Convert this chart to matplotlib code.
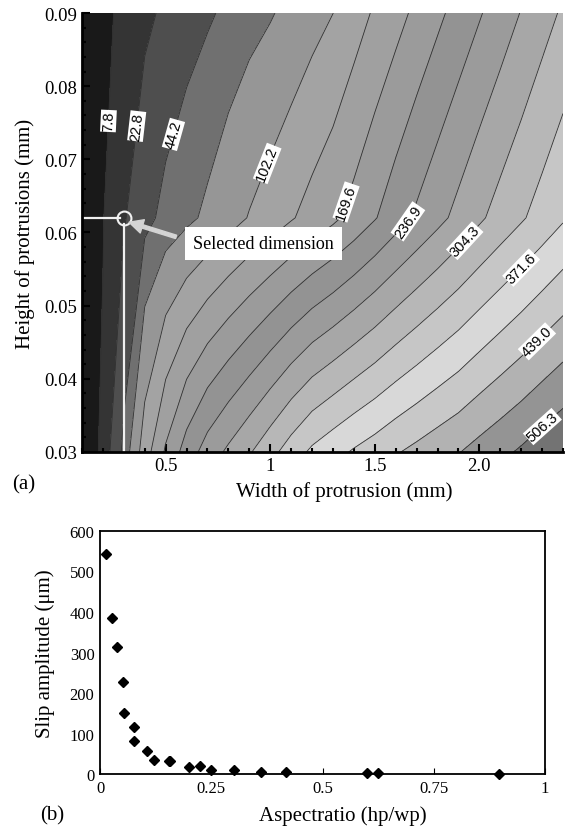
import numpy as np
import matplotlib
matplotlib.use('Agg')
import matplotlib.pyplot as plt
from matplotlib.ticker import MultipleLocator

plt.rcParams['font.family'] = ['Liberation Serif', 'DejaVu Serif']

# (a) slip amplitude (um) on a coarse width x height grid
width_mm = [0.1, 0.2, 0.3, 0.4, 0.5, 0.6, 0.7, 0.8, 0.9, 1.0, 1.1, 1.2,
            1.3, 1.4, 1.5, 1.6, 1.7, 1.8, 1.9, 2.0, 2.1, 2.2, 2.3, 2.4]
height_mm = [0.03, 0.062, 0.09]
slip_h030 = [1, 9.7, 49, 120, 174, 218, 252, 277, 301, 327, 354, 378,
             394, 409, 422, 436, 448, 460, 471, 485, 498, 511, 525, 538]
slip_h062 = [1, 7.2, 21, 37, 51, 62, 74, 89, 104, 118, 133, 148,
             163, 181, 201, 222, 242, 261, 280, 299, 317, 334, 351, 368]
slip_h090 = [2, 5.5, 10, 19, 26, 34, 41, 49, 58, 66, 77, 90,
             102, 121, 140, 158, 177, 196, 215, 234, 253, 272, 291, 309]

contour_levels = [7.8, 22.8, 44.2, 68.5, 102.2, 135.9, 169.6, 203.2, 236.9,
                  270.6, 304.3, 337.9, 371.6, 405.3, 439.0, 472.6, 506.3]
# grey of each filled band (0-255), lowest band first
band_grey = [25, 52, 78, 112, 150, 163, 160, 155, 147, 155, 167, 183,
             198, 216, 200, 178, 148, 115]
label_levels = [7.8, 22.8, 44.2, 102.2, 169.6, 236.9, 304.3, 371.6, 439.0, 506.3]
label_pos = [(0.26, 0.0752), (0.374, 0.0745), (0.563, 0.0732), (0.998, 0.0693),
             (1.37, 0.0641), (1.659, 0.0615), (1.925, 0.059), (2.196, 0.0553),
             (2.30, 0.0444), (2.316, 0.033)]
selected = (0.3, 0.062)

# (b) slip amplitude vs aspect ratio
aspect_ratio = [0.0135, 0.027, 0.0375, 0.052, 0.054, 0.077, 0.077, 0.106, 0.121, 0.154,
                0.158, 0.200, 0.225, 0.250, 0.300, 0.361, 0.417, 0.599, 0.624, 0.897]
slip_amp = [543, 385, 313, 228, 150, 115, 82, 57, 35, 32,
            32, 18, 20, 10, 11, 6, 6, 2, 2.5, 1]

fig = plt.figure(figsize=(5.67, 8.29), dpi=100)

# ---------- panel (a) ----------
ax = fig.add_axes([0.1446, 0.4536, 0.8484, 0.5295])
X, Y = np.meshgrid(width_mm, height_mm)
Z = np.array([slip_h030, slip_h062, slip_h090])

bounds = [-10] + contour_levels + [700]
fill_cols = [(g / 255, g / 255, g / 255) for g in band_grey]
ax.contourf(X, Y, Z, levels=bounds, colors=fill_cols)
plain_levels = [v for v in contour_levels if v not in label_levels]
ax.contour(X, Y, Z, levels=plain_levels, colors='#303030', linewidths=0.6)
cs = ax.contour(X, Y, Z, levels=label_levels, colors='#303030', linewidths=0.6)
labels = ax.clabel(cs, manual=label_pos, fmt='%.1f',
                   fontsize=10.5, inline=True, inline_spacing=1, colors='black')
for t in labels:
    t.set_family('Liberation Sans')
    t.set_bbox(dict(facecolor='white', edgecolor='none', pad=0.6))

# selected dimension marker
ax.plot([0.1, selected[0] - 0.017], [selected[1], selected[1]], color='#f0f0f0', lw=1.6)
ax.plot([selected[0], selected[0]], [0.03, selected[1] - 0.0008], color='#f0f0f0', lw=1.6)
ax.plot(selected[0], selected[1], 'o', mfc='none', mec='#f0f0f0', mew=1.5, ms=10)
ax.annotate('', xy=(selected[0] + 0.025, selected[1] - 0.0006), xytext=(0.55, 0.0594),
            arrowprops=dict(color='#d4d4d4', width=2.5, headwidth=10, headlength=10,
                            shrink=0))
ax.text(0.968, 0.0585, 'Selected dimension', ha='center', va='center', fontsize=13,
        bbox=dict(facecolor='white', edgecolor='none', boxstyle='square,pad=0.45'))

ax.set_xlim(0.1, 2.4)
ax.set_ylim(0.03, 0.09)
ax.set_xticks([0.5, 1.0, 1.5, 2.0], ['0.5', '1', '1.5', '2.0'])
ax.set_yticks([0.03, 0.04, 0.05, 0.06, 0.07, 0.08, 0.09],
              ['0.03', '0.04', '0.05', '0.06', '0.07', '0.08', '0.09'])
ax.xaxis.set_minor_locator(MultipleLocator(0.1))
ax.yaxis.set_minor_locator(MultipleLocator(0.002))
ax.tick_params(which='both', direction='in', width=1.5, labelsize=13.5)
ax.tick_params(which='major', length=6)
ax.tick_params(which='minor', length=3)
for s in ['top', 'right']:
    ax.spines[s].set_visible(False)
for s in ['left', 'bottom']:
    ax.spines[s].set_linewidth(2)
ax.set_xlabel('Width of protrusion (mm)', fontsize=15)
ax.set_ylabel('Height of protrusions (mm)', fontsize=15)
ax.xaxis.set_label_coords(0.545, -0.066)
ax.yaxis.set_label_coords(-0.098, 0.5)
fig.text(0.021, 0.41, '(a)', fontsize=15)

# ---------- panel (b) ----------
ax2 = fig.add_axes([0.1764, 0.0651, 0.7848, 0.2932])
ax2.plot(aspect_ratio, slip_amp, 'D', color='black', ms=5, clip_on=False)
ax2.set_xlim(0, 1)
ax2.set_ylim(0, 600)
ax2.set_xticks([0, 0.25, 0.5, 0.75, 1], ['0', '0.25', '0.5', '0.75', '1'])
ax2.set_yticks(range(0, 601, 100))
ax2.tick_params(axis='x', direction='in', length=4, labelsize=12, pad=4)
ax2.tick_params(axis='y', length=0, labelsize=12, pad=4)
for s in ax2.spines.values():
    s.set_linewidth(1.3)
ax2.set_xlabel('Aspectratio (hp/wp)', fontsize=15)
ax2.set_ylabel('Slip amplitude (μm)', fontsize=15)
ax2.xaxis.set_label_coords(0.545, -0.13)
ax2.yaxis.set_label_coords(-0.101, 0.5)
fig.text(0.07, 0.016, '(b)', fontsize=15, va='center')

fig.savefig('out.png', dpi=100)
